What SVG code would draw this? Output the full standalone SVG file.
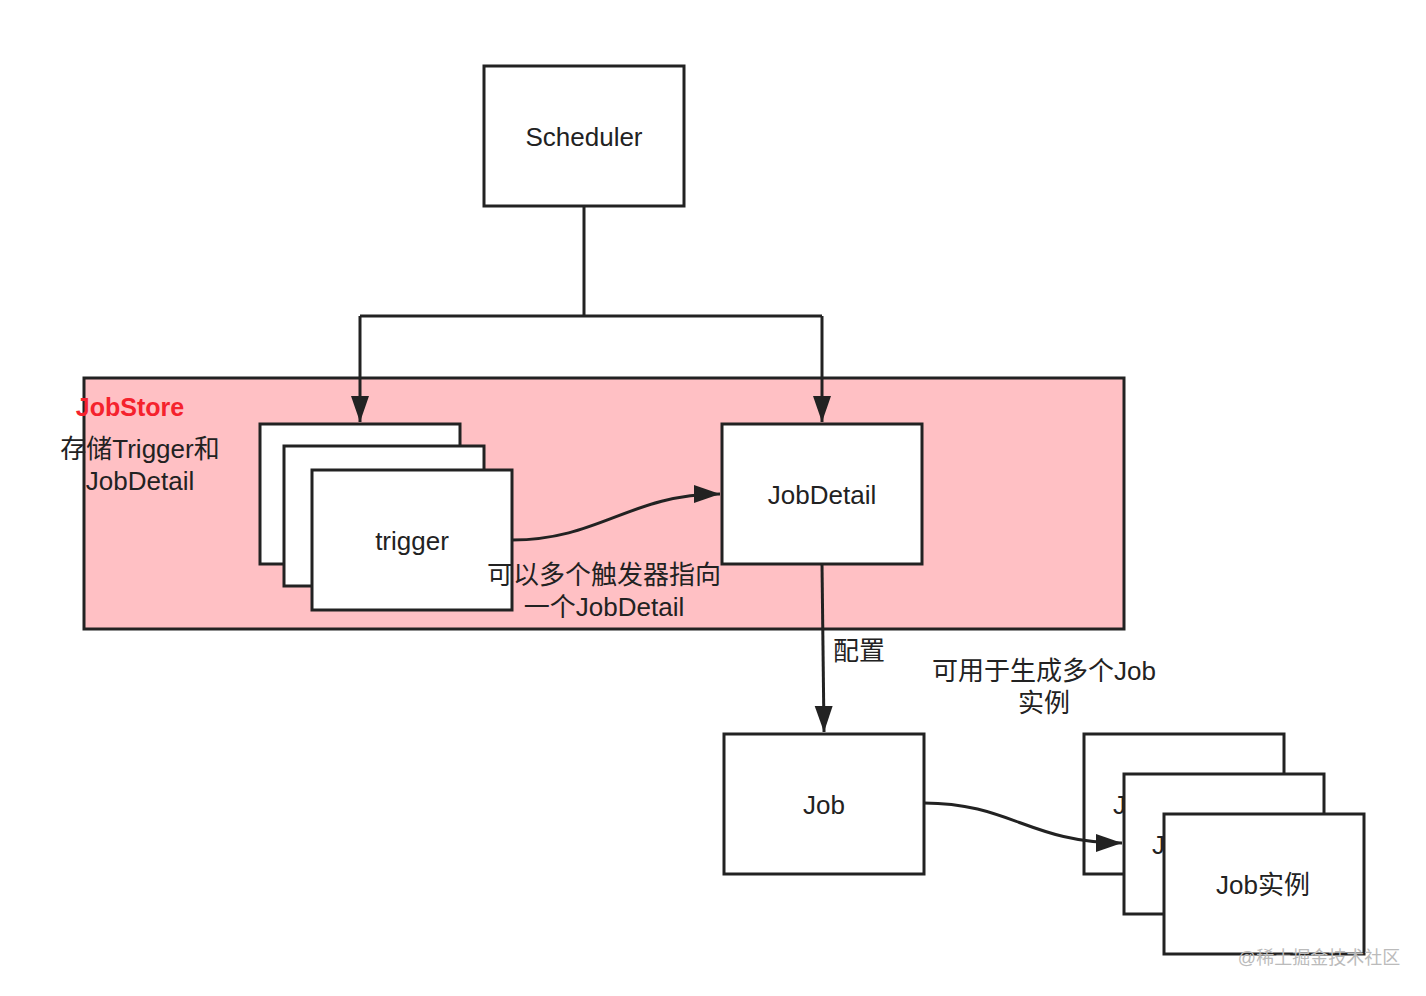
<svg xmlns="http://www.w3.org/2000/svg" width="1426" height="996" viewBox="0 0 1426 996">
<style>
.box{fill:#fff;stroke:#222;stroke-width:3}
.t{font-family:"Liberation Sans","Noto Sans CJK SC",sans-serif;font-size:26px;fill:#222;text-anchor:middle;dominant-baseline:central}
.c{fill:none;stroke:#222;stroke-width:3}
</style>
<defs>
<marker id="ah" markerUnits="userSpaceOnUse" markerWidth="28" markerHeight="20" refX="26" refY="10" orient="auto">
<path d="M0,1 L26,10 L0,19 Z" fill="#222"/>
</marker>
</defs>
<rect width="1426" height="996" fill="#fff"/>
<g id="jobstore">
<rect x="84" y="378" width="1040" height="251" fill="#ffc0c4" stroke="#222" stroke-width="3"/>
<text x="130" y="407" class="t" style="fill:#f5222d;font-weight:bold;font-size:25px">JobStore</text>
<text x="140" y="449" class="t">存储Trigger和</text>
<text x="140" y="481" class="t">JobDetail</text>
</g>
<g id="scheduler">
<rect x="484" y="66" width="200" height="140" class="box"/>
<text x="584" y="137" class="t">Scheduler</text>
</g>
<g id="trigger3"><rect x="260" y="424" width="200" height="140" class="box"/></g>
<g id="trigger2"><rect x="284" y="446" width="200" height="140" class="box"/></g>
<g id="trigger">
<rect x="312" y="470" width="200" height="140" class="box"/>
<text x="412" y="541" class="t">trigger</text>
</g>
<g id="jobdetail">
<rect x="722" y="424" width="200" height="140" class="box"/>
<text x="822" y="495" class="t">JobDetail</text>
</g>
<g id="job">
<rect x="724" y="734" width="200" height="140" class="box"/>
<text x="824" y="805" class="t">Job</text>
</g>
<g id="instance1">
<rect x="1084" y="734" width="200" height="140" class="box"/>
<text x="1113" y="805" class="t" style="text-anchor:start">Job实例</text>
</g>
<g id="instance2">
<rect x="1124" y="774" width="200" height="140" class="box"/>
<text x="1152" y="845" class="t" style="text-anchor:start">Job实例</text>
</g>
<g id="instance3">
<rect x="1164" y="814" width="200" height="140" class="box"/>
<text x="1263" y="885" class="t">Job实例</text>
</g>
<g id="connectors">
<path d="M584,206 V316 M360,316 H822" class="c"/>
<path d="M360,316 V422" class="c" marker-end="url(#ah)"/>
<path d="M822,316 V422" class="c" marker-end="url(#ah)"/>
<path d="M512,540 C600,540 630,494 720,494" class="c" marker-end="url(#ah)"/>
<path d="M822,564 L824,732" class="c" marker-end="url(#ah)"/>
<path d="M924,803 C1010,803 1030,843 1122,843" class="c" marker-end="url(#ah)"/>
</g>
<g id="labels">
<text x="604" y="575" class="t">可以多个触发器指向</text>
<text x="604" y="607" class="t">一个JobDetail</text>
<text x="833" y="651" class="t" style="text-anchor:start">配置</text>
<text x="1044" y="671" class="t">可用于生成多个Job</text>
<text x="1044" y="703" class="t">实例</text>
<text x="1319" y="958" class="t" style="font-size:18px;fill:#bbb">@稀土掘金技术社区</text>
</g>
</svg>
